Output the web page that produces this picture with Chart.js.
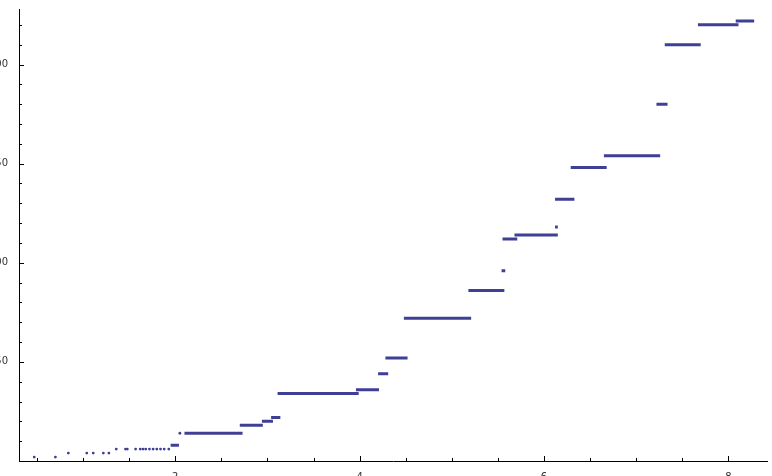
<!DOCTYPE html>
<html>
<head>
<meta charset="utf-8">
<script src="https://cdn.jsdelivr.net/npm/chart.js@4"></script>
<style>
  html, body { margin: 0; padding: 0; background: #fff; }
  #wrap { width: 772px; height: 476px; }
</style>
</head>
<body>
<div id="wrap"><canvas id="chart"></canvas></div>
<script>
// Horizontal runs: start x, end x, level
const segStart = [1.95, 2.10, 2.70, 2.94, 3.04, 3.11, 3.96, 4.20, 4.28, 4.48, 5.18, 5.54, 5.55, 5.68, 6.12, 6.12, 6.29, 6.65, 7.22, 7.31, 7.67, 8.08];
const segEnd   = [2.04, 2.73, 2.95, 3.06, 3.14, 3.99, 4.21, 4.31, 4.52, 5.21, 5.57, 5.58, 5.71, 6.15, 6.15, 6.33, 6.68, 7.26, 7.34, 7.70, 8.11, 8.28];
const segLevel = [8, 14, 18, 20, 22, 34, 36, 44, 52, 72, 86, 96, 112, 114, 118, 132, 148, 154, 180, 210, 220, 222];

// Isolated samples at the low end
const dotX = [0.30, 0.47, 0.70, 0.84, 1.04, 1.11, 1.22, 1.28, 1.36, 1.46, 1.48, 1.57, 1.62, 1.65, 1.68, 1.72, 1.76, 1.80, 1.84, 1.88, 1.93, 2.05];
const dotY = [0, 2, 2, 4, 4, 4, 4, 4, 6, 6, 6, 6, 6, 6, 6, 6, 6, 6, 6, 6, 6, 14];

const xTicks = [2, 4, 6, 8];
const yTicks = [50, 100, 150, 200];

const markColor = '#3f3f96';

const segData = [];
segLevel.forEach((lv, i) => {
    segData.push({ x: segStart[i], y: lv }, { x: segEnd[i], y: lv }, { x: segEnd[i], y: null });
});
const dotData = dotX.map((x, i) => ({ x: x, y: dotY[i] }));

// Mathematica-like axes with inward ticks
const axesPlugin = {
    id: 'axes',
    afterDatasetsDraw(chart) {
        const { ctx, scales: { x, y } } = chart;
        const ax = x.getPixelForValue(x.min), ay = y.getPixelForValue(0);
        ctx.save();
        ctx.strokeStyle = '#000';
        ctx.lineWidth = 1;
        ctx.beginPath();
        ctx.moveTo(x.left, ay + 0.5); ctx.lineTo(x.right, ay + 0.5);
        ctx.moveTo(ax + 0.5, y.top); ctx.lineTo(ax + 0.5, y.bottom);
        for (let v = 0.5; v <= x.max; v += 0.5) {
            const p = Math.round(x.getPixelForValue(v)) + 0.5;
            const len = (v % 2 === 0) ? 5 : 3;
            ctx.moveTo(p, ay); ctx.lineTo(p, ay - len);
        }
        for (let v = 10; v <= y.max; v += 10) {
            const p = Math.round(y.getPixelForValue(v)) + 0.5;
            const len = (v % 50 === 0) ? 5 : 3;
            ctx.moveTo(ax, p); ctx.lineTo(ax + len, p);
        }
        ctx.stroke();
        ctx.restore();
    }
};

new Chart(document.getElementById('chart'), {
    type: 'line',
    data: {
        datasets: [{
            data: segData,
            borderColor: markColor,
            borderWidth: 3,
            borderCapStyle: 'butt',
            pointRadius: 0,
            spanGaps: false,
            fill: false
        }, {
            type: 'scatter',
            data: dotData,
            backgroundColor: markColor,
            borderWidth: 0,
            pointRadius: 1.4
        }]
    },
    plugins: [axesPlugin],
    options: {
        responsive: true,
        maintainAspectRatio: false,
        animation: false,
        layout: { padding: 0 },
        plugins: { legend: { display: false }, tooltip: { enabled: false } },
        scales: {
            x: {
                type: 'linear',
                min: 0.305,
                max: 8.43,
                grid: { display: false },
                border: { display: false },
                afterBuildTicks: s => { s.ticks = xTicks.map(v => ({ value: v })); },
                afterFit: s => { s.height = 15; },
                ticks: { padding: 2, color: '#333', font: { family: 'DejaVu Sans', size: 10 } }
            },
            y: {
                min: 0,
                max: 228,
                grid: { display: false },
                border: { display: false },
                afterBuildTicks: s => { s.ticks = yTicks.map(v => ({ value: v })); },
                afterFit: s => { s.width = 19; },
                ticks: { padding: 3, color: '#333', font: { family: 'DejaVu Sans', size: 10 } }
            }
        }
    }
});
</script>
</body>
</html>
